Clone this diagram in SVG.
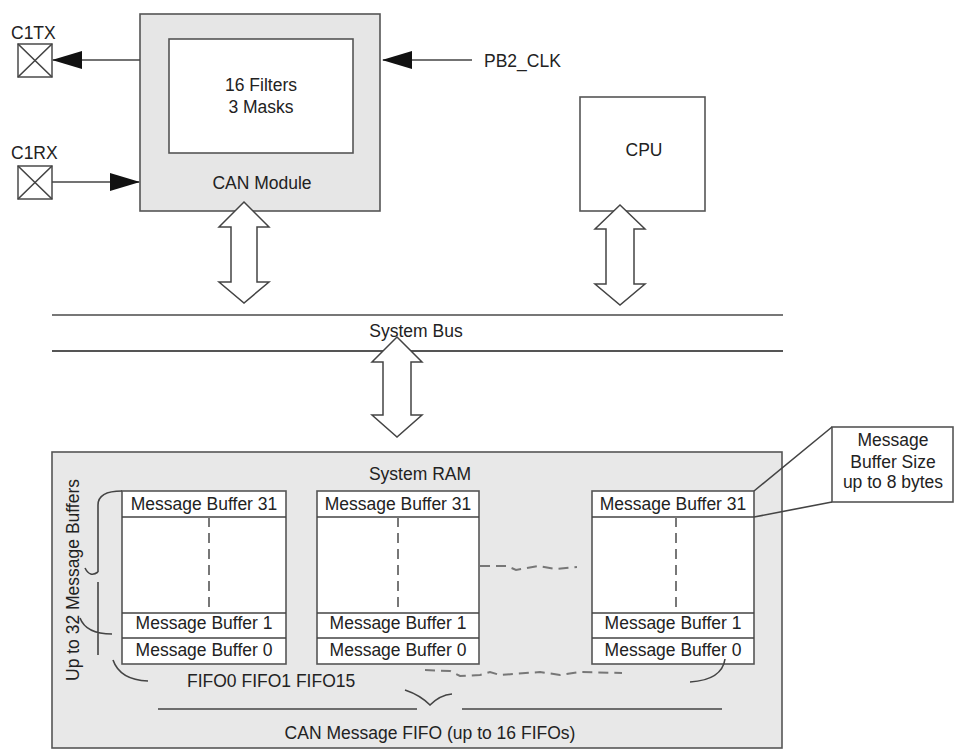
<svg xmlns="http://www.w3.org/2000/svg" width="960" height="751" viewBox="0 0 960 751">
<defs>
<style>
text{font-family:"Liberation Sans",Arial,sans-serif;font-size:17.5px;fill:#222}
.m{text-anchor:middle}
.box{stroke:#555;stroke-width:1.6}
.ln{stroke:#444;stroke-width:1.6;fill:none}
.dash{stroke:#777;stroke-width:2;fill:none;stroke-dasharray:10 6}
.dbl{fill:#fff;stroke:#444;stroke-width:1.5}
</style>
<marker id="ah" markerUnits="userSpaceOnUse" markerWidth="30" markerHeight="18" viewBox="0 0 30 18" refX="29" refY="9" orient="auto">
<path d="M0,0 L30,9 L0,18 Z" fill="#111"/>
</marker>
</defs>
<rect width="960" height="751" fill="#fff"/>

<g id="c1tx">
<text x="11" y="39">C1TX</text>
<rect x="18" y="44" width="34" height="33" fill="#fff" class="box"/>
<path d="M18,44 L52,77 M52,44 L18,77" class="ln"/>
</g>
<g id="c1rx">
<text x="11" y="159">C1RX</text>
<rect x="18" y="166" width="34" height="33" fill="#fff" class="box"/>
<path d="M18,166 L52,199 M52,166 L18,199" class="ln"/>
</g>

<g id="can-module">
<rect x="140" y="14" width="240" height="197" fill="#e6e6e6" class="box"/>
<rect x="169" y="39" width="184" height="114" fill="#fff" class="box"/>
<text x="261" y="91" class="m">16 Filters</text>
<text x="261" y="113" class="m">3 Masks</text>
<text x="262" y="189" class="m">CAN Module</text>
</g>

<g id="pb2clk">
<text x="484" y="67">PB2_CLK</text>
</g>

<g id="cpu">
<rect x="580" y="97" width="125" height="114" fill="#fff" class="box"/>
<text x="644" y="156" class="m">CPU</text>
</g>

<g id="system-bus">
<line x1="52" y1="315" x2="783" y2="315" stroke="#777" stroke-width="2"/>
<line x1="52" y1="351" x2="783" y2="351" stroke="#555" stroke-width="2"/>
<text x="416" y="337" class="m">System Bus</text>
</g>

<g id="system-ram">
<rect x="52" y="452" width="730" height="296" fill="#e8e8e8" class="box"/>
<text x="420" y="480" class="m">System RAM</text>
</g>

<g id="fifo0">
<rect x="122" y="491" width="164" height="173" fill="#fff" class="box"/>
<path d="M122,517 H286 M122,613 H286 M122,638 H286" class="ln"/>
<line x1="209" y1="517" x2="209" y2="613" class="dash" stroke-dasharray="8 5"/>
<text x="204" y="510" class="m">Message Buffer 31</text>
<text x="204" y="629" class="m">Message Buffer 1</text>
<text x="204" y="656" class="m">Message Buffer 0</text>
</g>
<g id="fifo1">
<rect x="317" y="491" width="162" height="173" fill="#fff" class="box"/>
<path d="M317,517 H479 M317,613 H479 M317,638 H479" class="ln"/>
<line x1="398" y1="517" x2="398" y2="613" class="dash" stroke-dasharray="8 5" stroke="#999"/>
<text x="398" y="510" class="m">Message Buffer 31</text>
<text x="398" y="629" class="m">Message Buffer 1</text>
<text x="398" y="656" class="m">Message Buffer 0</text>
</g>
<g id="fifo15">
<rect x="592" y="491" width="162" height="173" fill="#fff" class="box"/>
<path d="M592,517 H754 M592,613 H754 M592,638 H754" class="ln"/>
<line x1="676" y1="517" x2="676" y2="613" class="dash" stroke-dasharray="8 5"/>
<text x="673" y="510" class="m">Message Buffer 31</text>
<text x="673" y="629" class="m">Message Buffer 1</text>
<text x="673" y="656" class="m">Message Buffer 0</text>
</g>

<g id="callout">
<rect x="832" y="427" width="121" height="75" fill="#fff" class="box"/>
<text x="893" y="446" class="m">Message</text>
<text x="893" y="468" class="m">Buffer Size</text>
<text x="893" y="488" class="m">up to 8 bytes</text>
</g>

<g id="labels">
<text transform="translate(79,580) rotate(-90)" class="m">Up to 32 Message Buffers</text>
<text x="187" y="687">FIFO0 FIFO1 FIFO15</text>
<text x="430" y="739" class="m">CAN Message FIFO (up to 16 FIFOs)</text>
</g>

<g id="connectors">
<line x1="140" y1="60" x2="53" y2="60" class="ln" marker-end="url(#ah)"/>
<line x1="52" y1="182" x2="139" y2="182" class="ln" marker-end="url(#ah)"/>
<line x1="472" y1="60" x2="383" y2="60" class="ln" marker-end="url(#ah)"/>
<polygon class="dbl" points="244,202 269,227 257,227 257,282 269,282 244,303 219,282 231,282 231,227 219,227"/>
<polygon class="dbl" points="620,205 645,229 634,229 634,284 645,284 620,305 595,284 606,284 606,229 595,229"/>
<polygon class="dbl" points="397,337 422,362 411,362 411,415 422,415 397,437 372,415 383,415 383,362 372,362"/>
<path d="M754,491 L832,427 M754,517 L832,502" class="ln"/>
<path d="M480,566 L507,566 L516,570 L538,566 L555,569 L577,567" class="dash"/>
<path d="M425,670 L450,671 L460,676 L480,675 L490,672 L500,675 L540,672 L560,675 L580,672 L622,673" class="dash"/>
<path d="M122,491 Q98,491 98,505 L98,572 M85,568 Q90,578 98,572 M98,582 L98,655 M80,618 Q86,634 112,634" class="ln"/>
<path d="M113,660 Q120,680 148,681" class="ln"/>
<path d="M725,659 Q722,680 690,682" class="ln"/>
<path d="M158,709 L417,709 M462,709 L722,709" class="ln"/>
<path d="M405,690 Q420,695 430,705 Q440,695 452,694" class="ln"/>
</g>
</svg>
